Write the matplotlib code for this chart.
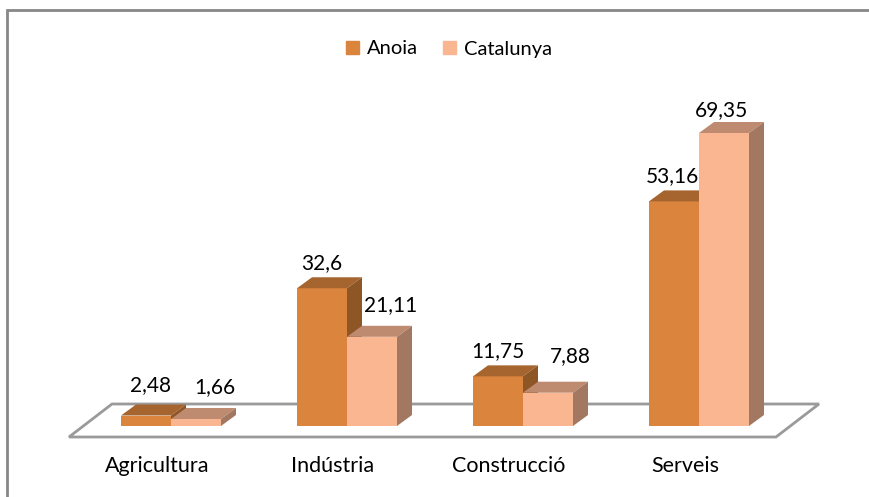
import matplotlib.pyplot as plt
import matplotlib.patches as mpatches
import numpy as np

categories = ['Agricultura', 'Indústria', 'Construcció', 'Serveis']
anoia = [2.48, 32.6, 11.75, 53.16]
catalunya = [1.66, 21.11, 7.88, 69.35]
series_names = ['Anoia', 'Catalunya']

# colours: front, top, side
anoia_cols = ('#DB843D', '#A6652E', '#8E5525')
cat_cols = ('#FAB691', '#BE8B70', '#A27862')

plt.rcParams['font.family'] = ['Lato', 'DejaVu Sans']

W, H = 870, 497
fig = plt.figure(figsize=(W / 100, H / 100), dpi=100)
ax = fig.add_axes([0, 0, 1, 1])

# pixel layout of the reference
cat_px = 176.0      # distance between category groups
first_px = 171.0    # centre of first group
base_px = 426.0     # bar bottom
unit_px = 4.225     # pixels per value unit

ax.set_xlim(-first_px / cat_px, (W - first_px) / cat_px)
ax.set_ylim(-(H - base_px) / unit_px, base_px / unit_px)
ax.axis('off')

px_x = lambda p: (p - first_px) / cat_px
px_y = lambda p: (base_px - p) / unit_px

bw = 50 / cat_px
ddx = 15 / cat_px
ddy = 11 / unit_px

# floor
floor_x = [px_x(69), px_x(776), px_x(819), px_x(112)]
floor_y = [px_y(437), px_y(437), px_y(404), px_y(404)]
ax.fill(floor_x, floor_y, facecolor='white', edgecolor='#9a9a9a', lw=2, zorder=1)

x = np.arange(len(categories))


def box(x0, h, cols):
    ax.bar(x0, h, width=bw, align='edge', color=cols[0], zorder=2)
    ax.fill([x0, x0 + bw, x0 + bw + ddx, x0 + ddx],
            [h, h, h + ddy, h + ddy], color=cols[1], lw=0, zorder=2)
    ax.fill([x0 + bw, x0 + bw + ddx, x0 + bw + ddx, x0 + bw],
            [0, ddy, h + ddy, h], color=cols[2], lw=0, zorder=2)


for i in range(len(categories)):
    box(x[i] - bw, anoia[i], anoia_cols)
    box(x[i], catalunya[i], cat_cols)

# value labels (offsets in pixels from bar front top)
off_a = [(5, 30), (0, 25), (0, 25), (-2, 25)]
off_c = [(19, 32), (19, 32), (22, 37), (-2, 23)]
for i in range(len(categories)):
    for vals, off, xc in ((anoia, off_a, x[i] - bw / 2), (catalunya, off_c, x[i] + bw / 2)):
        ax.annotate(f'{vals[i]:g}'.replace('.', ','), (xc, vals[i]),
                    xytext=off[i], textcoords='offset pixels',
                    ha='center', va='center', fontsize=15, zorder=5)

# category labels
for i, c in enumerate(categories):
    ax.text(x[i] - 14 / cat_px, px_y(466), c, ha='center', va='center', fontsize=15.5)

# legend
handles = [mpatches.Patch(color=anoia_cols[0], label=series_names[0]),
           mpatches.Patch(color=cat_cols[0], label=series_names[1])]
fig.legend(handles=handles, loc='center', bbox_to_anchor=(449 / W, 1 - 49 / H),
           ncol=2, frameon=False, fontsize=14.5, handlelength=0.65,
           handleheight=0.65, handletextpad=0.4, columnspacing=1.2)

# outer border
fig.patches.append(mpatches.Rectangle((7 / W, -0.1), 1.2, 1.1 - 10 / H, transform=fig.transFigure,
                                      fill=False, edgecolor='#878787', lw=2))

fig.savefig('out.png', dpi=100)
